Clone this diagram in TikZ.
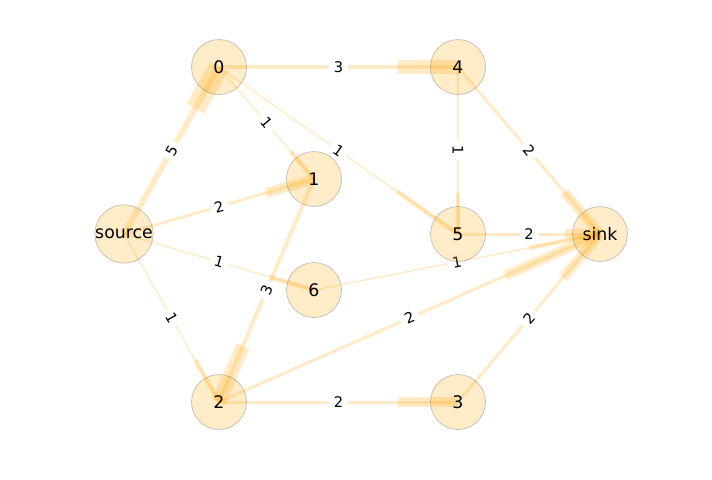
\documentclass[tikz,border=0pt]{standalone}
\usepackage{fontspec}
\setmainfont{DejaVu Sans}
\usetikzlibrary{calc}
\pgfdeclarelayer{back}
\pgfsetlayers{back,main}
\definecolor{flow}{RGB}{255,165,0}
\tikzset{
  vert/.style={circle, minimum size=41.25pt, inner sep=0pt, fill=flow, fill opacity=0.21,
    draw=black!70, draw opacity=0.3, line width=0.6pt, text opacity=1,
    font=\fontsize{13}{15}\selectfont},
  pipe/.style={draw=flow, draw opacity=0.22, line width=#1},
  head/.style={draw=flow, draw opacity=0.22, line width=#1},
  lbl/.style={fill=white, fill opacity=1, text opacity=1, draw=none, inner sep=3.5pt,
    sloped, font=\fontsize{11}{13}\selectfont}
}
\begin{document}
\begin{tikzpicture}[x=0.75pt, y=-0.75pt]
  \useasboundingbox (0,0) rectangle (712,479);
  % vertices
  \node[vert] (source) at (124,234) {source};
  \node[vert] (n0) at (219,67) {0};
  \node[vert] (n1) at (314,179) {1};
  \node[vert] (n2) at (219,402) {2};
  \node[vert] (n3) at (458,402) {3};
  \node[vert] (n4) at (458,67) {4};
  \node[vert] (n5) at (458,234) {5};
  \node[vert] (n6) at (314,290) {6};
  \node[vert] (sink) at (600,234) {sink};
  \begin{pgfonlayer}{back}
  % edges
  \draw[pipe=4.5pt] (source.center) -- node[lbl] {5} (n0.center);
  \draw[pipe=2.25pt] (source.center) -- node[lbl] {2} (n1.center);
  \draw[pipe=1.1pt] (source.center) -- node[lbl] {1} (n6.center);
  \draw[pipe=1.1pt] (source.center) -- node[lbl] {1} (n2.center);
  \draw[pipe=3pt] (n0.center) -- node[lbl] {3} (n4.center);
  \draw[pipe=1.1pt] (n0.center) -- node[lbl] {1} (n1.center);
  \draw[pipe=1.1pt] (n0.center) -- node[lbl] {1} (n5.center);
  \draw[pipe=3pt] (n1.center) -- node[lbl] {3} (n2.center);
  \draw[pipe=1.1pt] (n4.center) -- node[lbl] {1} (n5.center);
  \draw[pipe=2.25pt] (n4.center) -- node[lbl] {2} (sink.center);
  \draw[pipe=2.25pt] (n5.center) -- node[lbl] {2} (sink.center);
  \draw[pipe=1.1pt] (n6.center) -- node[lbl] {1} (sink.center);
  \draw[pipe=2.25pt] (n2.center) -- node[lbl] {2} (sink.center);
  \draw[pipe=2.25pt] (n2.center) -- node[lbl] {2} (n3.center);
  \draw[pipe=2.25pt] (n3.center) -- node[lbl] {2} (sink.center);
  % arrow heads
  \draw[head=15pt] (n0.center) -- ($(n0)!36pt!(source)$);
  \draw[head=7.5pt] (n1.center) -- ($(n1)!37.5pt!(source)$);
  \draw[head=3.4pt] (n6.center) -- ($(n6)!33.75pt!(source)$);
  \draw[head=3.4pt] (n2.center) -- ($(n2)!36pt!(source)$);
  \draw[head=10.5pt] (n4.center) -- ($(n4)!45pt!(n0)$);
  \draw[head=3.4pt] (n1.center) -- ($(n1)!27pt!(n0)$);
  \draw[head=3.4pt] (n5.center) -- ($(n5)!55.5pt!(n0)$);
  \draw[head=10.5pt] (n2.center) -- ($(n2)!45.75pt!(n1)$);
  \draw[head=3.4pt] (n5.center) -- ($(n5)!30.75pt!(n4)$);
  \draw[head=7.5pt] (sink.center) -- ($(sink)!41.25pt!(n4)$);
  \draw[head=7.5pt] (sink.center) -- ($(sink)!26.25pt!(n5)$);
  \draw[head=3.4pt] (sink.center) -- ($(sink)!54pt!(n6)$);
  \draw[head=7.5pt] (sink.center) -- ($(sink)!77.25pt!(n2)$);
  \draw[head=7.5pt] (n3.center) -- ($(n3)!45pt!(n2)$);
  \draw[head=7.5pt] (sink.center) -- ($(sink)!42.75pt!(n3)$);
  \end{pgfonlayer}
\end{tikzpicture}
\end{document}
